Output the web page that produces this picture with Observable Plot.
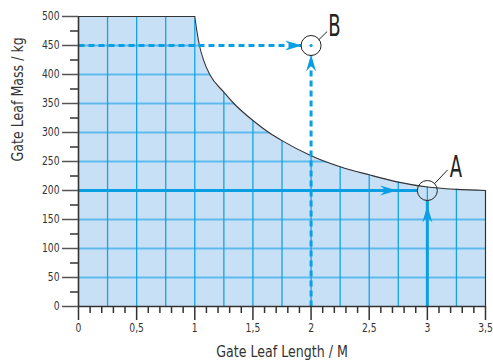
<!DOCTYPE html>
<html>
<head>
<meta charset="utf-8">
<script src="https://cdn.jsdelivr.net/npm/d3@7"></script>
<script src="https://cdn.jsdelivr.net/npm/@observablehq/plot@0.6"></script>
<style>
  html, body { margin: 0; padding: 0; background: #fff; }
  #chart svg { display: block; }
</style>
</head>
<body>
<div id="chart"></div>
<script>
// ---- data ----
const flatX = [0, 1];
const flatY = [500, 500];
const curveX = [1.0, 1.017, 1.04, 1.077, 1.129, 1.25, 1.336, 1.5, 1.637, 1.75, 2.0, 2.25, 2.5, 2.75, 3.0, 3.25, 3.5];
const curveY = [500, 476, 450, 424, 400, 369.5, 350, 320.7, 300, 286, 260, 241, 227, 214.5, 206, 202, 200];
const xMajorTicks = [0, 0.5, 1, 1.5, 2, 2.5, 3, 3.5];
const xMinorTicks = [0.1,0.2,0.3,0.4,0.6,0.7,0.8,0.9,1.1,1.2,1.3,1.4,1.6,1.7,1.8,1.9,2.1,2.2,2.3,2.4,2.6,2.7,2.8,2.9,3.1,3.2,3.3,3.4];
const yMajorTicks = [0, 50, 100, 150, 200, 250, 300, 350, 400, 450, 500];
const yMinorTicks = [25, 75, 125, 175, 225, 275, 325, 375, 425, 475];
const gridX = [0.25,0.5,0.75,1,1.25,1.5,1.75,2,2.25,2.5,2.75,3,3.25];
const gridY = [50,100,150,250,300,350,400,450];
// point A (solid arrows) and point B (dashed arrows)
const pointLabels = ["A", "B"];
const pointX = [3, 2];
const pointY = [200, 450];
const hArrowEndX = [2.915, 1.915];
const vArrowEndY = [183, 433];
const hArrowTipX = [2.74, 1.923];
const vArrowTipY = [174, 434.5];
const labelX = [3.246, 2.2];
const labelY = [240.5, 483];
const leaderX1 = [3.061, 2.066], leaderY1 = [211.6, 459.8];
const leaderX2 = [3.175, 2.138], leaderY2 = [235.7, 474];

const flat = flatX.map((x, i) => ({x, y: flatY[i]}));
const curve = curveX.map((x, i) => ({x, y: curveY[i]}));
const pts = pointLabels.map((name, i) => ({
  name, x: pointX[i], y: pointY[i], hx: hArrowEndX[i], vy: vArrowEndY[i],
  htx: hArrowTipX[i], vty: vArrowTipY[i], lx: labelX[i], ly: labelY[i],
  x1: leaderX1[i], y1: leaderY1[i], x2: leaderX2[i], y2: leaderY2[i]
}));
const A = pts.filter(d => d.name === "A");
const B = pts.filter(d => d.name === "B");

const blue = "#0a9fe3";
const fmt = d => String(d).replace(".", ",");
const FONT = "'DejaVu Sans', sans-serif";
const CURVE = "monotone-x";

// arrowhead symbol: tip at origin, pointing up, swept-back tail
const arrowHead = {
  draw(ctx) {
    ctx.moveTo(0, 0);
    ctx.lineTo(5, 17);
    ctx.lineTo(0, 11.5);
    ctx.lineTo(-5, 17);
    ctx.closePath();
  }
};

const chart = Plot.plot({
  width: 493,
  height: 364,
  marginLeft: 78,
  marginRight: 8,
  marginTop: 16,
  marginBottom: 58,
  style: {fontFamily: FONT, fontSize: "12px", color: "#333", background: "#fff"},
  x: {domain: [0, 3.5], axis: null},
  y: {domain: [0, 500], axis: null},
  marks: [
    Plot.rect([0], {x1: 0, x2: 3.5, y1: 0, y2: 500, fill: "#c8e0f5"}),
    Plot.ruleY(gridY, {y: d => d, x1: 0, x2: 3.5, stroke: "#5fbaee", strokeWidth: 2}),
    Plot.ruleX(gridX, {x: d => d, y1: 0, y2: 500, stroke: "#12a3e8", strokeWidth: 1.3}),
    Plot.areaY(curve, {x: "x", y1: "y", y2: 510, curve: CURVE, fill: "white"}),
    Plot.rect([0], {x1: 3.5, x2: 3.7, y1: 0, y2: 510, fill: "white"}),
    Plot.line(flat, {x: "x", y: "y", stroke: "#333", strokeWidth: 1.2}),
    Plot.line(curve, {x: "x", y: "y", curve: CURVE, stroke: "#333", strokeWidth: 1.1}),
    Plot.ruleX([3.5], {x: d => d, y1: 0, y2: 200, stroke: "#333", strokeWidth: 1.2}),
    Plot.link(A, {x1: 0, y1: "y", x2: "hx", y2: "y", stroke: blue, strokeWidth: 3}),
    Plot.link(A, {x1: "x", y1: 0, x2: "x", y2: "vy", stroke: blue, strokeWidth: 3}),
    Plot.link(B, {x1: 0, y1: "y", x2: "hx", y2: "y", stroke: blue, strokeWidth: 3, strokeDasharray: "6,4"}),
    Plot.link(B, {x1: "x", y1: 0, x2: "x", y2: "vy", stroke: blue, strokeWidth: 3, strokeDasharray: "6,4"}),
    Plot.dot(pts, {x: "htx", y: "y", symbol: arrowHead, rotate: 90, fill: blue, stroke: null, r: 5}),
    Plot.dot(pts, {x: "x", y: "vty", symbol: arrowHead, rotate: 0, fill: blue, stroke: null, r: 5}),
    Plot.dot(pts, {x: "x", y: "y", r: 10, stroke: "#222", strokeWidth: 1, fill: "none"}),
    Plot.dot(B, {x: "x", y: "y", r: 1.6, fill: blue, stroke: null}),
    Plot.link(pts, {x1: "x1", y1: "y1", x2: "x2", y2: "y2", stroke: "#222", strokeWidth: 1}),
    Plot.text(pts, {x: "lx", y: "ly", text: "name", fontSize: 30, fill: "#222", textAnchor: "middle", lineAnchor: "middle"}),
    Plot.ruleX([0], {x: d => d, y1: 0, y2: 500, stroke: "#333", strokeWidth: 1.6}),
    Plot.ruleY([0], {y: d => d, x1: 0, x2: 3.5, stroke: "#333", strokeWidth: 1.6}),
    Plot.axisX({ticks: xMajorTicks, tickSize: 14, tickPadding: 3, tickFormat: fmt, stroke: "#333", strokeWidth: 1.5, fontSize: 11.5, label: null}),
    Plot.axisX({ticks: xMinorTicks, tickSize: 7, tickFormat: () => "", stroke: "#333", strokeWidth: 1.5, label: null}),
    Plot.axisY({ticks: yMajorTicks, tickSize: 16, tickPadding: 3, stroke: "#555", strokeWidth: 1.5, fontSize: 11.5, label: null}),
    Plot.axisY({ticks: yMinorTicks, tickSize: 8, tickFormat: () => "", stroke: "#333", strokeWidth: 1.5, label: null}),
    Plot.text(["Gate Leaf Length / M"], {frameAnchor: "bottom", dy: 46, text: d => d, fontSize: 15, fill: "#333", lineAnchor: "middle"}),
    Plot.text(["Gate Leaf Mass / kg"], {frameAnchor: "left", dx: -60, rotate: -90, text: d => d, fontSize: 15, fill: "#333", lineAnchor: "middle"})
  ]
});
document.getElementById("chart").appendChild(chart);

// condense the text horizontally (the reference uses a condensed typeface)
chart.querySelectorAll("text").forEach(el => {
  const fs = parseFloat(getComputedStyle(el).fontSize);
  const ratio = fs >= 25 ? 0.6 : fs >= 14 ? 0.84 : 0.8;
  const w = el.getComputedTextLength();
  if (w > 0) {
    el.setAttribute("textLength", (w * ratio).toFixed(2));
    el.setAttribute("lengthAdjust", "spacingAndGlyphs");
  }
});
</script>
</body>
</html>
